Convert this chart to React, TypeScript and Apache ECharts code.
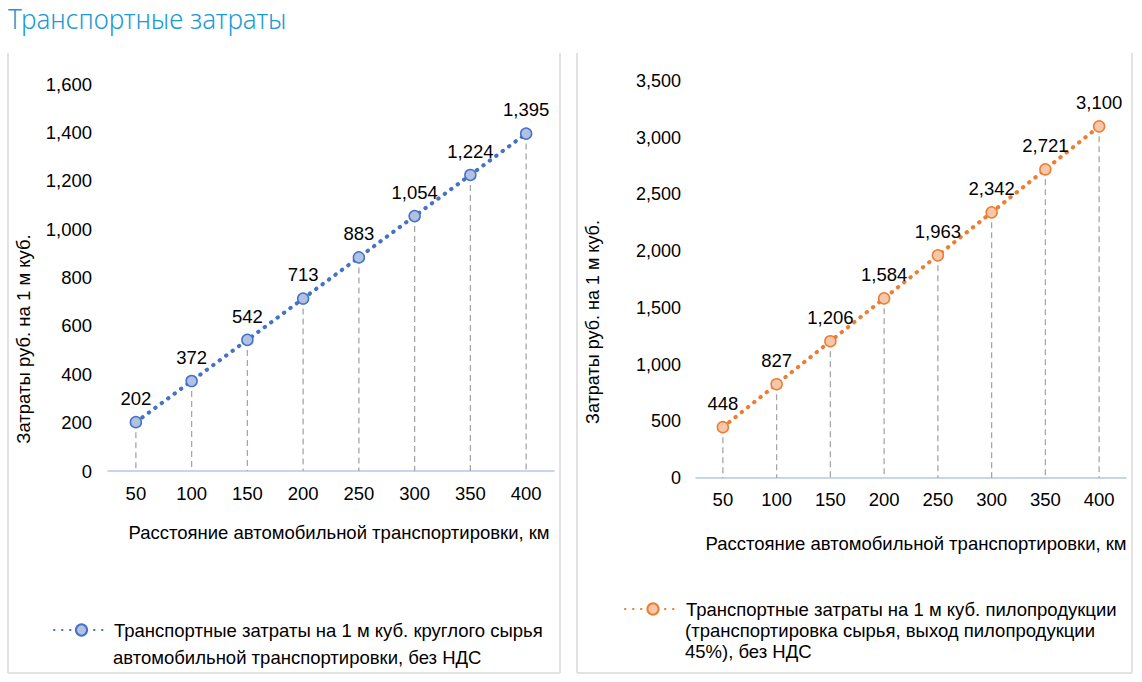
import React, { useEffect, useRef } from "react";
import * as echarts from "echarts";

const categories = ["50", "100", "150", "200", "250", "300", "350", "400"];
const roundTimberCost = [202, 372, 542, 713, 883, 1054, 1224, 1395];
const lumberCost = [448, 827, 1206, 1584, 1963, 2342, 2721, 3100];

const titleText = "Транспортные затраты";
const yName = "Затраты руб. на 1 м куб.";
const xName = "Расстояние автомобильной транспортировки, км";
const legendLeftLines = ["Транспортные затраты на 1 м куб. круглого сырья", "автомобильной транспортировки, без НДС"];
const legendRightLines = ["Транспортные затраты на 1 м куб. пилопродукции", "(транспортировка сырья, выход пилопродукции", "45%), без НДС"];

const FONT = "'Liberation Sans', Arial, sans-serif";
const BLUE = "#4472c4";
const ORANGE = "#ed7d31";
const FS = 18.5;

const fmt = (v: number) => v.toLocaleString("en-US");

export default function App() {
  const ref = useRef<HTMLDivElement>(null);
  useEffect(() => {
    if (!ref.current) return;
    const chart = echarts.init(ref.current, undefined, { renderer: "svg" });

    const dropItem = (params: any, api: any) => {
      const top = api.coord([api.value(0), api.value(1)]);
      const base = api.coord([api.value(0), 0]);
      return {
        type: "line",
        shape: { x1: top[0], y1: top[1], x2: base[0], y2: base[1] },
        style: { stroke: "#a6a6a6", lineWidth: 1.3, lineDash: [6, 4] },
      };
    };

    const xAxisCommon = {
      type: "category",
      data: categories,
      boundaryGap: true,
      axisLine: { lineStyle: { color: "#b4c7e7", width: 1.5 } },
      axisTick: { show: false },
      axisLabel: { color: "#000", fontFamily: FONT, fontSize: FS },
      splitLine: { show: false },
    };
    const yAxisCommon = {
      type: "value",
      min: 0,
      axisLine: { show: false },
      axisTick: { show: false },
      splitLine: { show: false },
      axisLabel: {
        color: "#000",
        fontFamily: FONT,
        fontSize: FS,
        formatter: (v: number) => fmt(v),
      },
    };

    const labelCommon = {
      show: true,
      position: "top",
      distance: 8,
      color: "#000",
      fontFamily: FONT,
      fontSize: FS,
      formatter: (p: any) => fmt(p.value),
    };

    const legendText = { color: "#000", fontFamily: FONT, fontSize: FS, lineHeight: 22 };
    const extraLine = (text: string, x: number, y: number) => ({
      type: "text",
      x,
      y,
      style: { text, fill: "#000", font: `${FS}px ${FONT}`, align: "left", verticalAlign: "middle" },
    });

    const border = (x1: number, y1: number, x2: number, y2: number) => ({
      type: "line",
      shape: { x1, y1, x2, y2 },
      style: { stroke: "#e2e2e2", lineWidth: 2 },
    });

    const option: any = {
      animation: false,
      backgroundColor: "#fff",
      grid: [
        { left: 108, right: 588, top: 84, bottom: 211 },
        { left: 696, right: 16, top: 81, bottom: 204 },
      ],
      xAxis: [
        { ...xAxisCommon, gridIndex: 0, axisLabel: { ...xAxisCommon.axisLabel, margin: 13 } },
        { ...xAxisCommon, gridIndex: 1, axisLabel: { ...xAxisCommon.axisLabel, margin: 12 } },
      ],
      yAxis: [
        { ...yAxisCommon, gridIndex: 0, max: 1600, interval: 200, axisLabel: { ...yAxisCommon.axisLabel, margin: 16 } },
        { ...yAxisCommon, gridIndex: 1, max: 3500, interval: 500, axisLabel: { ...yAxisCommon.axisLabel, fontSize: 18, margin: 15 } },
      ],
      legend: [
        {
          left: 53,
          top: 619,
          padding: 0,
          itemWidth: 55,
          itemHeight: 14,
          data: ["left"],
          formatter: () => legendLeftLines[0],
          textStyle: legendText,
        },
        {
          left: 624,
          top: 598,
          padding: 0,
          itemWidth: 56,
          itemHeight: 14,
          data: ["right"],
          formatter: () => legendRightLines[0],
          textStyle: legendText,
        },
      ],
      graphic: [
        {
          type: "text", x: 8, y: 4, scaleX: 0.93,
          style: { text: titleText, fill: "#1a9ad6", font: "300 28px 'Noto Sans', sans-serif" },
        },
        border(8, 53, 8, 673),
        border(560, 53, 560, 673),
        border(8, 673, 560, 673),
        border(577, 53, 577, 673),
        border(1132, 53, 1132, 673),
        border(577, 673, 1132, 673),
        {
          type: "text", x: 23, y: 339, rotation: Math.PI / 2,
          style: { text: yName, fill: "#000", font: `${FS}px ${FONT}`, align: "center", verticalAlign: "middle" },
        },
        {
          type: "text", x: 593, y: 322, rotation: Math.PI / 2,
          style: { text: yName, fill: "#000", font: `18px ${FONT}`, align: "center", verticalAlign: "middle" },
        },
        { type: "text", x: 339, y: 532, style: { text: xName, fill: "#000", font: `${FS}px ${FONT}`, align: "center", verticalAlign: "middle" } },
        { type: "text", x: 916, y: 543, style: { text: xName, fill: "#000", font: `${FS}px ${FONT}`, align: "center", verticalAlign: "middle" } },
        extraLine(legendLeftLines[1], 113, 657),
        extraLine(legendRightLines[1], 685, 630),
        extraLine(legendRightLines[2], 685, 651),
      ],
      series: [
        {
          type: "custom",
          xAxisIndex: 0,
          yAxisIndex: 0,
          renderItem: dropItem,
          data: roundTimberCost.map((v, i) => [i, v]),
          z: 1,
          silent: true,
        },
        {
          type: "custom",
          xAxisIndex: 1,
          yAxisIndex: 1,
          renderItem: dropItem,
          data: lumberCost.map((v, i) => [i, v]),
          z: 1,
          silent: true,
        },
        {
          name: "left",
          type: "line",
          xAxisIndex: 0,
          yAxisIndex: 0,
          data: roundTimberCost,
          symbol: "circle",
          symbolSize: 11,
          z: 3,
          lineStyle: { color: BLUE, width: 4, type: [0.5, 7.5], cap: "round" },
          itemStyle: { color: "#b1c1e2", borderColor: BLUE, borderWidth: 1.5 },
          label: labelCommon,
        },
        {
          name: "right",
          type: "line",
          xAxisIndex: 1,
          yAxisIndex: 1,
          data: lumberCost,
          symbol: "circle",
          symbolSize: 11,
          z: 3,
          lineStyle: { color: ORANGE, width: 4, type: [0.5, 7.5], cap: "round" },
          itemStyle: { color: "#f6c7a8", borderColor: ORANGE, borderWidth: 1.5 },
          label: labelCommon,
        },
      ],
    };
    chart.setOption(option);
    return () => chart.dispose();
  }, []);
  return <div ref={ref} style={{ position: "fixed", left: 0, top: 0, width: 1142, height: 682 }} />;
}
